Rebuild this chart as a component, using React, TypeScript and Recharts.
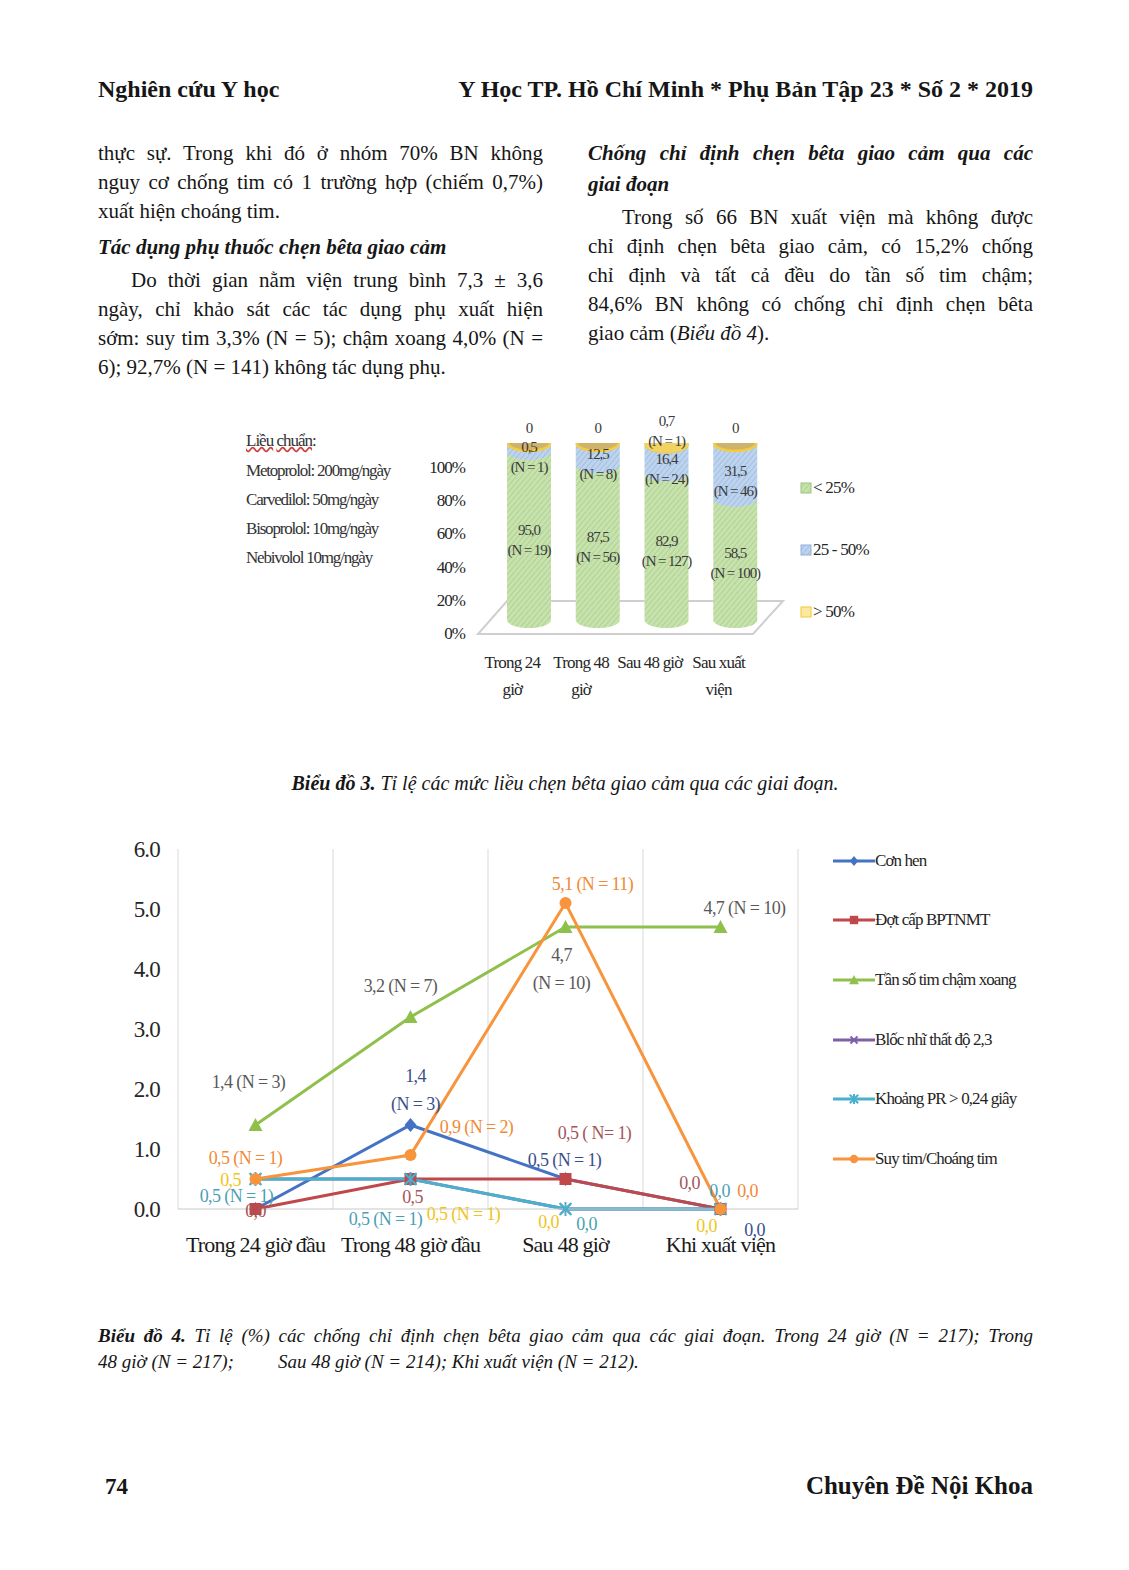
import React from 'react';
import {
  BarChart, Bar, XAxis, YAxis, LabelList, Legend, LineChart, Line, CartesianGrid,
} from 'recharts';

const FONT = '"Liberation Serif", "Times New Roman", serif';

// Biểu đồ 3 – mức liều chẹn bêta
const doseStages = ['Trong 24\ngiờ', 'Trong 48\ngiờ', 'Sau 48 giờ', 'Sau xuất\nviện'];
const lowDose = [95.0, 87.5, 82.9, 68.5];
const midDose = [5.0, 12.5, 16.4, 31.5];
const highDose = [0, 0, 0.7, 0];
const lowDoseLabels = ['95,0\n(N = 19)', '87,5\n(N = 56)', '82,9\n(N = 127)', '58,5\n(N = 100)'];
const midDoseLabels = ['0,5\n(N = 1)', '12,5\n(N = 8)', '16,4\n(N = 24)', '31,5\n(N = 46)'];
const highDoseLabels = ['0', '0', '0,7\n(N = 1)', '0'];
const pctTicks = [0, 20, 40, 60, 80, 100];
const doseNotes = ['Metoprolol: 200mg/ngày', 'Carvedilol: 50mg/ngày', 'Bisoprolol: 10mg/ngày', 'Nebivolol 10mg/ngày'];
const doseLegend = ['< 25%', '25 - 50%', '> 50%'];

// Biểu đồ 4 – chống chỉ định
const phases = ['Trong 24 giờ đầu', 'Trong 48 giờ đầu', 'Sau 48 giờ', 'Khi xuất viện'];
const conHen = [0, 1.4, 0.5, 0];
const dotCap = [0, 0.5, 0.5, 0];
const tanSo = [1.4, 3.2, 4.7, 4.7];
const blocNhi = [0.5, 0.5, 0, 0];
const khoangPR = [0.5, 0.5, 0, 0];
const suyTim = [0.5, 0.9, 5.1, 0];
const conHenLabels = ['', '1,4\n(N = 3)', '0,5 (N = 1)', '0,0'];
const dotCapLabels = ['0,0', '0,5', '0,5 ( N= 1)', '0,0'];
const tanSoLabels = ['1,4 (N = 3)', '3,2 (N = 7)', '4,7\n(N = 10)', '4,7 (N = 10)'];
const blocNhiLabels = ['0,5', '0,5 (N = 1)', '0,0', '0,0'];
const khoangPRLabels = ['0,5 (N = 1)', '0,5 (N = 1)', '0,0', '0,0'];
const suyTimLabels = ['0,5 (N = 1)', '0,9 (N = 2)', '5,1 (N = 11)', '0,0'];
const yTicks4 = [0, 1, 2, 3, 4, 5, 6];

const rows3 = doseStages.map((stage, i) => ({ stage, low: lowDose[i], mid: midDose[i], high: highDose[i] }));
const rows4 = phases.map((phase, i) => ({
  phase, conHen: conHen[i], dotCap: dotCap[i], tanSo: tanSo[i],
  blocNhi: blocNhi[i], khoangPR: khoangPR[i], suyTim: suyTim[i],
}));

type Series = {
  key: string; name: string; color: string; text: string; marker: string;
  labels: string[]; offsets: number[][];
};

const series4: Series[] = [
  { key: 'conHen', name: 'Cơn hen', color: '#4472c4', text: '#3a4e8a', marker: 'diamond', labels: conHenLabels, offsets: [[0, 0], [5, -49], [-1, -19], [34, 21]] },
  { key: 'dotCap', name: 'Đợt cấp BPTNMT', color: '#c0474a', text: '#a5565a', marker: 'square', labels: dotCapLabels, offsets: [[0, 2], [2, 18], [29, -46], [-31, -26]] },
  { key: 'tanSo', name: 'Tần số tim chậm xoang', color: '#8fc04c', text: '#595959', marker: 'triangle', labels: tanSoLabels, offsets: [[-7, -43], [-10, -31], [-4, 28], [24, -19]] },
  { key: 'blocNhi', name: 'Blốc nhĩ thất độ 2,3', color: '#7f60a8', text: '#f0c419', marker: 'cross', labels: blocNhiLabels, offsets: [[-25, 1], [53, 35], [-17, 13], [-14, 17]] },
  { key: 'khoangPR', name: 'Khoảng PR > 0,24 giây', color: '#4bb0cc', text: '#4a9fb6', marker: 'star', labels: khoangPRLabels, offsets: [[-19, 17], [-25, 40], [21, 15], [-1, -18]] },
  { key: 'suyTim', name: 'Suy tim/Choáng tim', color: '#f7943c', text: '#ef8a35', marker: 'circle', labels: suyTimLabels, offsets: [[-10, -21], [66, -28], [27, -19], [27, -18]] },
];

const Marker = ({ kind, cx, cy, color, s = 1 }: { kind: string; cx: number; cy: number; color: string; s?: number }) => {
  switch (kind) {
    case 'diamond':
      return <polygon points={`${cx},${cy - 7 * s} ${cx + 6 * s},${cy} ${cx},${cy + 7 * s} ${cx - 6 * s},${cy}`} fill={color} />;
    case 'square':
      return <rect x={cx - 6 * s} y={cy - 6 * s} width={12 * s} height={12 * s} fill={color} />;
    case 'triangle':
      return <polygon points={`${cx},${cy - 7 * s} ${cx + 7 * s},${cy + 6 * s} ${cx - 7 * s},${cy + 6 * s}`} fill={color} />;
    case 'cross':
      return (
        <g stroke={color} strokeWidth={2}>
          <line x1={cx - 5 * s} y1={cy - 5 * s} x2={cx + 5 * s} y2={cy + 5 * s} />
          <line x1={cx - 5 * s} y1={cy + 5 * s} x2={cx + 5 * s} y2={cy - 5 * s} />
        </g>
      );
    case 'star':
      return (
        <g stroke={color} strokeWidth={2}>
          <line x1={cx - 6 * s} y1={cy - 6 * s} x2={cx + 6 * s} y2={cy + 6 * s} />
          <line x1={cx - 6 * s} y1={cy + 6 * s} x2={cx + 6 * s} y2={cy - 6 * s} />
          <line x1={cx} y1={cy - 7 * s} x2={cx} y2={cy + 7 * s} />
        </g>
      );
    default:
      return <circle cx={cx} cy={cy} r={6 * s} fill={color} />;
  }
};

const TextLine: React.FC<{
  x: number; base: number; w?: number; size?: number; justify?: boolean; indent?: number;
  style?: React.CSSProperties; children: React.ReactNode;
}> = ({ x, base, w = 445, size = 21, justify, indent = 0, style, children }) => (
  <div
    style={{
      position: 'absolute', left: x, top: base - 0.84 * size, width: w, fontSize: size,
      lineHeight: `${size}px`, textAlign: justify ? 'justify' : 'left',
      textAlignLast: justify ? 'justify' : 'left', textIndent: indent, ...style,
    }}
  >
    {children}
  </div>
);

// cylinder piece for the 3D stacked bars
const cylSegment = (fill: string, cap = false) => (props: any) => {
  const { x, y, width, height } = props;
  if (width == null || y == null) return <g />;
  const rx = width / 2;
  const ry = 8;
  return (
    <g>
      {height > 0 && (
        <path
          d={`M${x},${y} L${x},${y + height} A${rx},${ry} 0 0 0 ${x + width},${y + height} L${x + width},${y} Z`}
          fill={fill}
        />
      )}
      {cap && <ellipse cx={x + rx} cy={y} rx={rx - 1} ry={ry} fill="#d0b36a" stroke="#f6cc38" strokeWidth={2.5} />}
    </g>
  );
};

const lbl3 = { fontFamily: FONT, fontSize: 15, letterSpacing: -1.1, fill: '#3a3a3a' };

const stackLabel = (texts: string[], where: 'low' | 'mid' | 'high') => (props: any) => {
  const vb = props.viewBox || {};
  const x = vb.x ?? props.x;
  const y = vb.y ?? props.y;
  const width = vb.width ?? props.width;
  const height = vb.height ?? props.height ?? 0;
  const idx = props.index ?? 0;
  const text = texts[idx];
  if (!text) return null;
  const lines = text.split('\n');
  const cx = x + width / 2;
  let y0: number;
  if (where === 'high') y0 = lines.length > 1 ? y - 22 : y - 15;
  else y0 = y + height / 2 + (where === 'mid' ? 10 : 4) - (lines.length - 1) * 10;
  return (
    <g>
      {lines.map((l, i) => (
        <text key={i} x={cx} y={y0 + i * 20} textAnchor="middle" dominantBaseline="central" {...lbl3}>{l}</text>
      ))}
    </g>
  );
};

const DoseTick = (props: any) => {
  const { x, y, payload } = props;
  const lines = String(payload.value).split('\n');
  return (
    <g>
      {lines.map((l, i) => (
        <text key={i} x={x - 17} y={y + 29 + i * 27} textAnchor="middle" dominantBaseline="central"
          fontFamily={FONT} fontSize={17} letterSpacing={-0.8} fill="#262626">{l}</text>
      ))}
    </g>
  );
};

const doseSwatches = ['url(#hatchGreen)', 'url(#hatchBlue)', '#fbe9a0'];
const doseSwatchBorders = ['#9cc47e', '#8fb0da', '#f2c83a'];

const DoseLegend = () => (
  <div style={{ fontFamily: FONT }}>
    {doseLegend.map((t, i) => (
      <div key={t} style={{ height: 62, display: 'flex', alignItems: 'center', fontSize: 17, letterSpacing: -0.8, color: '#262626' }}>
        <svg width={12} height={12} style={{ marginRight: 1 }}>
          <rect x={1} y={1} width={10} height={10} fill={doseSwatches[i]} stroke={doseSwatchBorders[i]} />
        </svg>
        {t}
      </div>
    ))}
  </div>
);

const pointLabel = (s: Series) => (props: any) => {
  const vb = props.viewBox || {};
  const x = props.x ?? vb.x;
  const y = props.y ?? vb.y;
  const i = props.index ?? 0;
  const text = s.labels[i];
  if (!text || x == null) return null;
  const [dx, dy] = s.offsets[i];
  return (
    <g>
      {text.split('\n').map((l, k) => (
        <text key={k} x={x + dx} y={y + dy + k * 28} textAnchor="middle" dominantBaseline="central"
          fontFamily={FONT} fontSize={18} letterSpacing={-0.6} fill={s.text}>{l}</text>
      ))}
    </g>
  );
};

const PhaseLegend = () => (
  <div style={{ fontFamily: FONT }}>
    {series4.map((s) => (
      <div key={s.key} style={{ height: 59.6, display: 'flex', alignItems: 'center' }}>
        <svg width={42} height={16}>
          <line x1={0} y1={8} x2={42} y2={8} stroke={s.color} strokeWidth={3} />
          <Marker kind={s.marker} cx={21} cy={8} color={s.color} s={0.7} />
        </svg>
        <span style={{ fontSize: 17, letterSpacing: -0.9, color: '#1f1f1f' }}>{s.name}</span>
      </div>
    ))}
  </div>
);

const App: React.FC = () => (
  <div style={{
    position: 'absolute', left: 0, top: 0, width: 1129, height: 1570, background: '#fff',
    fontFamily: FONT, color: '#161616', overflow: 'hidden',
  }}>
    <svg width={0} height={0} style={{ position: 'absolute' }}>
      <defs>
        <pattern id="hatchGreen" patternUnits="userSpaceOnUse" width={4} height={4} patternTransform="rotate(40)">
          <rect width={4} height={4} fill="#c8e2ae" />
          <line x1={0} y1={0} x2={0} y2={4} stroke="#a5cb88" strokeWidth={1.4} />
        </pattern>
        <pattern id="hatchBlue" patternUnits="userSpaceOnUse" width={4} height={4} patternTransform="rotate(40)">
          <rect width={4} height={4} fill="#bed4ee" />
          <line x1={0} y1={0} x2={0} y2={4} stroke="#97b6dd" strokeWidth={1.4} />
        </pattern>
      </defs>
    </svg>

    {/* header */}
    <TextLine x={98} base={97} w={400} size={24} style={{ fontWeight: 'bold' }}>Nghiên cứu Y học</TextLine>
    <TextLine x={433} base={97} w={600} size={24} style={{ fontWeight: 'bold', textAlign: 'right', textAlignLast: 'right' }}>
      Y Học TP. Hồ Chí Minh * Phụ Bản Tập 23 * Số 2 * 2019
    </TextLine>

    {/* left column */}
    <TextLine x={98} base={161} justify>thực sự. Trong khi đó  ở nhóm 70% BN không</TextLine>
    <TextLine x={98} base={190} justify>nguy cơ chống tim có 1 trường hợp (chiếm 0,7%)</TextLine>
    <TextLine x={98} base={219}>xuất hiện choáng tim.</TextLine>
    <TextLine x={98} base={255} style={{ fontWeight: 'bold', fontStyle: 'italic' }}>Tác dụng phụ thuốc chẹn bêta giao cảm</TextLine>
    <TextLine x={98} base={288} justify indent={33}>Do thời gian nằm viện trung bình 7,3 ± 3,6</TextLine>
    <TextLine x={98} base={317} justify>ngày, chỉ khảo sát các tác dụng phụ xuất hiện</TextLine>
    <TextLine x={98} base={346} justify>sớm: suy tim 3,3% (N = 5); chậm xoang 4,0% (N =</TextLine>
    <TextLine x={98} base={375}>6); 92,7% (N = 141) không tác dụng phụ.</TextLine>

    {/* right column */}
    <TextLine x={588} base={161} justify style={{ fontWeight: 'bold', fontStyle: 'italic' }}>Chống chỉ định chẹn bêta giao cảm qua các</TextLine>
    <TextLine x={588} base={192} style={{ fontWeight: 'bold', fontStyle: 'italic' }}>giai đoạn</TextLine>
    <TextLine x={588} base={225} justify indent={34}>Trong số 66 BN xuất viện mà không được</TextLine>
    <TextLine x={588} base={254} justify>chỉ định chẹn bêta giao cảm, có 15,2% chống</TextLine>
    <TextLine x={588} base={283} justify>chỉ định và tất cả đều do tần số tim chậm;</TextLine>
    <TextLine x={588} base={312} justify>84,6% BN không có chống chỉ định chẹn bêta</TextLine>
    <TextLine x={588} base={341}>giao cảm (<i>Biểu đồ 4</i>).</TextLine>

    {/* chart 3 notes */}
    <TextLine x={246} base={446} w={200} size={17} style={{ letterSpacing: -1, color: '#333' }}>
      <span style={{ textDecoration: 'underline wavy #d04040' }}>Liều</span>{' '}
      <span style={{ textDecoration: 'underline wavy #d04040' }}>chuẩn</span>:
    </TextLine>
    {doseNotes.map((t, i) => (
      <TextLine key={t} x={246} base={476 + i * 29} w={200} size={17} style={{ letterSpacing: -1.2, color: '#333' }}>{t}</TextLine>
    ))}

    {/* chart 3 floor */}
    <svg width={1129} height={700} style={{ position: 'absolute', left: 0, top: 0 }}>
      <polygon points="478,634 753,634 783,601 507,601" fill="none" stroke="#cfcfcf" strokeWidth={2} />
    </svg>

    <div style={{ position: 'absolute', left: 230, top: 400 }}>
      <BarChart width={680} height={320} data={rows3} margin={{ top: 43, right: 140, bottom: 0, left: 0 }} barSize={44}>
        <XAxis dataKey="stage" axisLine={false} tickLine={false} tickSize={0} tickMargin={0} height={87} tick={<DoseTick />} interval={0} />
        <YAxis yAxisId="pct" type="number" domain={[0, 114.46]} allowDataOverflow ticks={pctTicks} width={265}
          axisLine={false} tickLine={false} tickSize={0} tickMargin={30} tickFormatter={(v: number) => `${v}%`}
          tick={{ fontFamily: FONT, fontSize: 17, letterSpacing: -1, fill: '#262626' }} />
        <YAxis yAxisId="bars" orientation="right" type="number" domain={[-7.34, 100]} allowDataOverflow hide />
        <Bar yAxisId="bars" dataKey="low" stackId="d" fill="url(#hatchGreen)" shape={cylSegment('url(#hatchGreen)')} isAnimationActive={false}>
          <LabelList dataKey="low" content={stackLabel(lowDoseLabels, 'low')} />
        </Bar>
        <Bar yAxisId="bars" dataKey="mid" stackId="d" fill="url(#hatchBlue)" shape={cylSegment('url(#hatchBlue)', true)} isAnimationActive={false}>
          <LabelList dataKey="mid" content={stackLabel(midDoseLabels, 'mid')} />
        </Bar>
        <Bar yAxisId="bars" dataKey="high" stackId="d" fill="#f1d363" shape={cylSegment('#f1d363')} isAnimationActive={false}>
          <LabelList dataKey="high" content={stackLabel(highDoseLabels, 'high')} />
        </Bar>
        <Legend content={<DoseLegend />} layout="vertical" align="center" verticalAlign="middle" wrapperStyle={{ left: 570, top: 57, width: 100 }} />
      </BarChart>
    </div>

    <TextLine x={140} base={790} w={850} size={20} style={{ fontStyle: 'italic', textAlign: 'center', textAlignLast: 'center' }}>
      <b>Biểu đồ 3.</b> Tỉ lệ các mức liều chẹn bêta giao cảm qua các giai đoạn.
    </TextLine>

    <div style={{ position: 'absolute', left: 100, top: 830 }}>
      <LineChart width={940} height={440} data={rows4} margin={{ top: 19, right: 242, bottom: 0, left: 0 }}>
        <CartesianGrid horizontal={false} stroke="#d9d9d9"
          verticalCoordinatesGenerator={({ offset }: any) => [0, 1, 2, 3, 4].map((i) => offset.left + (i * offset.width) / 4)} />
        <XAxis dataKey="phase" padding={{ left: 77.5, right: 77.5 }} height={61} interval={0}
          axisLine={{ stroke: '#c8c8c8' }} tickLine={false} tickSize={0} tickMargin={27}
          tick={{ fontFamily: FONT, fontSize: 22, letterSpacing: -0.8, fill: '#1a1a1a' }} />
        <YAxis type="number" domain={[0, 6]} ticks={yTicks4} width={78} axisLine={false} tickLine={false}
          tickSize={0} tickMargin={18} tickFormatter={(v: number) => v.toFixed(1)}
          tick={{ fontFamily: FONT, fontSize: 23, letterSpacing: -0.8, fill: '#262626' }} />
        {series4.map((s) => (
          <Line key={s.key} type="linear" dataKey={s.key} name={s.name} stroke={s.color} strokeWidth={3}
            isAnimationActive={false}
            dot={(p: any) => <Marker key={`${s.key}-${p.index}`} kind={s.marker} cx={p.cx} cy={p.cy} color={s.color} />}
            activeDot={false}>
            <LabelList dataKey={s.key} content={pointLabel(s)} />
          </Line>
        ))}
        <Legend content={<PhaseLegend />} layout="vertical" align="center" verticalAlign="middle" wrapperStyle={{ left: 733, top: 1, width: 200 }} />
      </LineChart>
    </div>

    <TextLine x={98} base={1342} w={935} size={19} justify style={{ fontStyle: 'italic' }}>
      <b>Biểu đồ 4.</b> Tỉ lệ (%) các chống chỉ định chẹn bêta giao cảm qua các giai đoạn. Trong 24 giờ (N = 217); Trong
    </TextLine>
    <TextLine x={98} base={1368} w={935} size={19} style={{ fontStyle: 'italic' }}>
      48 giờ (N = 217);<span style={{ marginLeft: 44 }}>Sau 48 giờ (N = 214); Khi xuất viện (N = 212).</span>
    </TextLine>

    {/* footer */}
    <TextLine x={105} base={1494} w={100} size={23} style={{ fontWeight: 'bold' }}>74</TextLine>
    <TextLine x={633} base={1494} w={400} size={25} style={{ fontWeight: 'bold', textAlign: 'right', textAlignLast: 'right' }}>
      Chuyên Đề Nội Khoa
    </TextLine>
  </div>
);

export default App;
